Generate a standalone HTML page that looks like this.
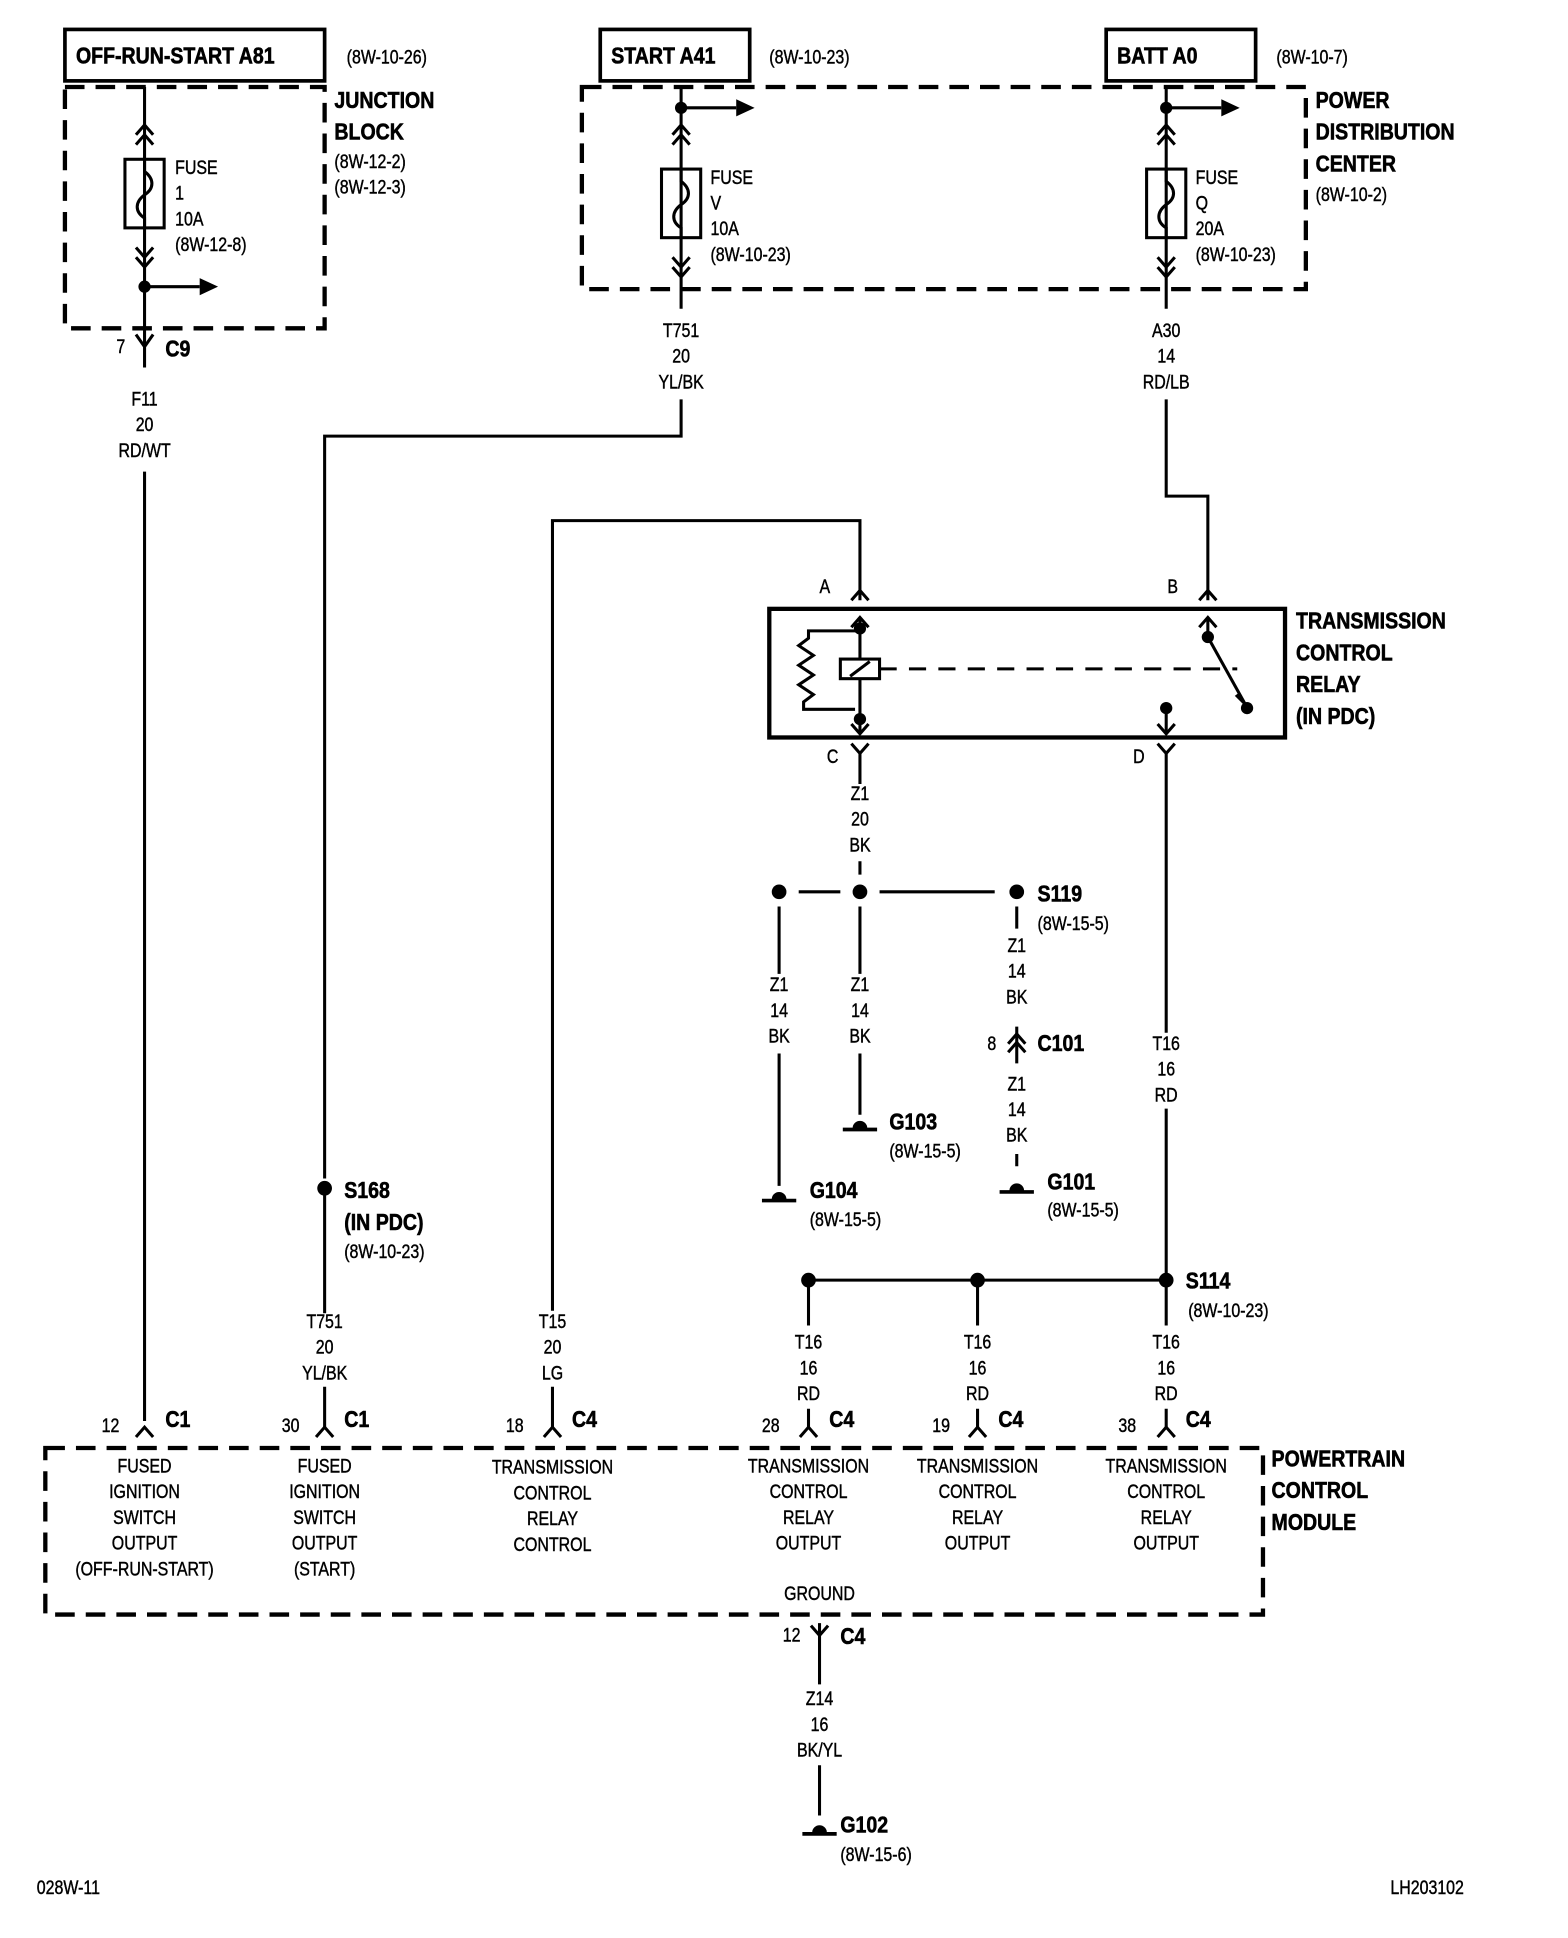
<!DOCTYPE html>
<html><head><meta charset="utf-8"><style>
html,body{margin:0;padding:0;background:#fff;}
svg{display:block;}
text{font-family:"Liberation Sans",sans-serif;fill:#000;stroke:#000;stroke-width:0.35;transform-box:fill-box;transform:scaleX(.84);transform-origin:0 0;}
.b{font-weight:bold;font-size:19px;stroke-width:0.5;}
.s{font-size:15.5px;}
.c{text-anchor:middle;transform-origin:50% 0;}
</style></head><body>
<svg width="1568" height="1938" viewBox="0 0 1280 1582" xmlns="http://www.w3.org/2000/svg">
<g fill="none" stroke="#000" stroke-width="2.5">
<rect x="53" y="24" width="212" height="42" stroke-width="3"/>
<rect x="490" y="24" width="122" height="42" stroke-width="3"/>
<rect x="903" y="24" width="122" height="42" stroke-width="3"/>
<rect x="53" y="71" width="212" height="197" stroke-width="3.5" stroke-dasharray="16,9"/>
<rect x="475" y="71" width="591" height="165" stroke-width="3.5" stroke-dasharray="16,9"/>
<rect x="37" y="1182" width="994" height="136" stroke-width="3.5" stroke-dasharray="16,9"/>
<path d="M118 71V300M118 385V1160"/>
<path d="M111 110l7-8 7 8M111 118l7-8 7 8M111 202l7 8 7-8M111 210l7 8 7-8"/>
<rect x="102" y="130" width="32" height="56"/>
<path d="M118 130v10c8 6 8 14 0 19c-8 6-8 14 0 19v8"/>
<path d="M118 234h45"/>
<path d="M111 273l7 10 7-10"/>
<path d="M556 71V252M556 326V356H265V962"/>
<path d="M549 110l7-8 7 8M549 118l7-8 7 8M549 210l7 8 7-8M549 218l7 8 7-8"/>
<rect x="540" y="138" width="32" height="56"/>
<path d="M556 138v10c8 6 8 14 0 19c-8 6-8 14 0 19v8"/>
<path d="M556 88h45"/>
<path d="M952 71V252M952 326V405H986V490"/>
<path d="M945 110l7-8 7 8M945 118l7-8 7 8M945 210l7 8 7-8M945 218l7 8 7-8"/>
<rect x="936" y="138" width="32" height="56"/>
<path d="M952 138v10c8 6 8 14 0 19c-8 6-8 14 0 19v8"/>
<path d="M952 88h45"/>
<path d="M451 1070V425H702V490"/>
<rect x="628" y="497" width="421" height="105" stroke-width="3.5"/>
<path d="M695 490l7-8 7 8M979 490l7-8 7 8M695 512l7-8 7 8M979 512l7-8 7 8"/>
<path d="M702 505V538M702 554V598M986 505V520"/>
<rect x="686" y="538" width="32" height="16"/>
<path d="M694 552l16-12"/>
<path d="M702 515H660v6l-8 6 12 8-12 8 12 8-12 8 12 8-8 6v6h42"/>
<path d="M718 546H1010" stroke-dasharray="14,10"/>
<path d="M986 520L1016 574"/>
<path d="M952 578V598"/>
<path d="M695 591l7 8 7-8M945 591l7 8 7-8"/>
<path d="M695 607l7 8 7-8M945 607l7 8 7-8M702 615V640M952 615V843M952 905V1045"/>
<path d="M702 703V714M652 728H686M718 728H812"/>
<path d="M636 740V795M636 860V968M702 740V795M702 860V910"/>
<path d="M830 740V758M830 838V868M830 942V952"/>
<path d="M823 852l7-8 7 8M823 859l7-8 7 8"/>
<path d="M660 1045H952M660 1045V1082M798 1045V1082M952 1045V1082"/>
<path d="M660 1150V1165M798 1150V1165M952 1150V1165M265 1132V1165M451 1132V1165"/>
<path d="M111 1173l7-8 7 8M258 1173l7-8 7 8M444 1173l7-8 7 8M653 1173l7-8 7 8M791 1173l7-8 7 8M945 1173l7-8 7 8"/>
<path d="M265 970V1072"/>
<path d="M662 1327l7 8 7-8M669 1325V1375M669 1441V1482"/>
<path d="M622 980H650M688 922H716M816 973H844M655 1497H683" stroke-width="3"/>
</g>
<g fill="#000">
<polygon points="163,227 178,234 163,241"/>
<polygon points="601,81 616,88 601,95"/>
<polygon points="997,81 1012,88 997,95"/>
<circle cx="118" cy="234" r="5"/><circle cx="556" cy="88" r="5"/><circle cx="952" cy="88" r="5"/>
<circle cx="702" cy="513" r="5"/><circle cx="702" cy="587" r="5"/><circle cx="986" cy="520" r="5"/><circle cx="1018" cy="578" r="5"/><circle cx="952" cy="578" r="5"/>
<polygon points="1008,568 1018,578 1012,565"/>
<circle cx="636" cy="728" r="6"/><circle cx="702" cy="728" r="6"/><circle cx="830" cy="728" r="6"/>
<circle cx="265" cy="970" r="6"/>
<circle cx="660" cy="1045" r="6"/><circle cx="798" cy="1045" r="6"/><circle cx="952" cy="1045" r="6"/>
<path d="M630 979a6 6 0 0 1 12 0z"/><path d="M696 921a6 6 0 0 1 12 0z"/><path d="M824 972a6 6 0 0 1 12 0z"/><path d="M663 1496a6 6 0 0 1 12 0z"/>
</g>
<g>
<text class="b" x="62" y="52">OFF-RUN-START A81</text>
<text class="s" x="283" y="52">(8W-10-26)</text>
<text class="b" x="499" y="52">START A41</text>
<text class="s" x="628" y="52">(8W-10-23)</text>
<text class="b" x="912" y="52">BATT A0</text>
<text class="s" x="1042" y="52">(8W-10-7)</text>
<text class="b" x="273" y="88">JUNCTION</text>
<text class="b" x="273" y="114">BLOCK</text>
<text class="s" x="273" y="137">(8W-12-2)</text>
<text class="s" x="273" y="158">(8W-12-3)</text>
<text class="s" x="143" y="142">FUSE</text>
<text class="s" x="143" y="163">1</text>
<text class="s" x="143" y="184">10A</text>
<text class="s" x="143" y="205">(8W-12-8)</text>
<text class="s" x="580" y="150">FUSE</text>
<text class="s" x="580" y="171">V</text>
<text class="s" x="580" y="192">10A</text>
<text class="s" x="580" y="213">(8W-10-23)</text>
<text class="s" x="976" y="150">FUSE</text>
<text class="s" x="976" y="171">Q</text>
<text class="s" x="976" y="192">20A</text>
<text class="s" x="976" y="213">(8W-10-23)</text>
<text class="b" x="1074" y="88">POWER</text>
<text class="b" x="1074" y="114">DISTRIBUTION</text>
<text class="b" x="1074" y="140">CENTER</text>
<text class="s" x="1074" y="164">(8W-10-2)</text>
<text class="s" x="95" y="288">7</text>
<text class="b" x="135" y="291">C9</text>
<text class="s c" x="118" y="331">F11</text><text class="s c" x="118" y="352">20</text><text class="s c" x="118" y="373">RD/WT</text>
<text class="s c" x="556" y="275">T751</text><text class="s c" x="556" y="296">20</text><text class="s c" x="556" y="317">YL/BK</text>
<text class="s c" x="952" y="275">A30</text><text class="s c" x="952" y="296">14</text><text class="s c" x="952" y="317">RD/LB</text>
<text class="s" x="669" y="484">A</text><text class="s" x="953" y="484">B</text>
<text class="s" x="675" y="623">C</text><text class="s" x="925" y="623">D</text>
<text class="b" x="1058" y="513">TRANSMISSION</text>
<text class="b" x="1058" y="539">CONTROL</text>
<text class="b" x="1058" y="565">RELAY</text>
<text class="b" x="1058" y="591">(IN PDC)</text>
<text class="s c" x="702" y="653">Z1</text><text class="s c" x="702" y="674">20</text><text class="s c" x="702" y="695">BK</text>
<text class="b" x="847" y="736">S119</text>
<text class="s" x="847" y="759">(8W-15-5)</text>
<text class="s c" x="636" y="809">Z1</text><text class="s c" x="636" y="830">14</text><text class="s c" x="636" y="851">BK</text>
<text class="s c" x="702" y="809">Z1</text><text class="s c" x="702" y="830">14</text><text class="s c" x="702" y="851">BK</text>
<text class="s c" x="830" y="777">Z1</text><text class="s c" x="830" y="798">14</text><text class="s c" x="830" y="819">BK</text>
<text class="s" x="806" y="857">8</text>
<text class="b" x="847" y="858">C101</text>
<text class="s c" x="830" y="890">Z1</text><text class="s c" x="830" y="911">14</text><text class="s c" x="830" y="932">BK</text>
<text class="b" x="726" y="922">G103</text>
<text class="s" x="726" y="945">(8W-15-5)</text>
<text class="b" x="661" y="978">G104</text>
<text class="s" x="661" y="1001">(8W-15-5)</text>
<text class="b" x="855" y="971">G101</text>
<text class="s" x="855" y="993">(8W-15-5)</text>
<text class="s c" x="952" y="857">T16</text><text class="s c" x="952" y="878">16</text><text class="s c" x="952" y="899">RD</text>
<text class="b" x="281" y="978">S168</text>
<text class="b" x="281" y="1004">(IN PDC)</text>
<text class="s" x="281" y="1027">(8W-10-23)</text>
<text class="b" x="968" y="1052">S114</text>
<text class="s" x="970" y="1075">(8W-10-23)</text>
<text class="s c" x="265" y="1084">T751</text><text class="s c" x="265" y="1105">20</text><text class="s c" x="265" y="1126">YL/BK</text>
<text class="s c" x="451" y="1084">T15</text><text class="s c" x="451" y="1105">20</text><text class="s c" x="451" y="1126">LG</text>
<text class="s c" x="660" y="1101">T16</text><text class="s c" x="660" y="1122">16</text><text class="s c" x="660" y="1143">RD</text>
<text class="s c" x="798" y="1101">T16</text><text class="s c" x="798" y="1122">16</text><text class="s c" x="798" y="1143">RD</text>
<text class="s c" x="952" y="1101">T16</text><text class="s c" x="952" y="1122">16</text><text class="s c" x="952" y="1143">RD</text>
<text class="s" x="83" y="1169">12</text><text class="b" x="135" y="1165">C1</text>
<text class="s" x="230" y="1169">30</text><text class="b" x="281" y="1165">C1</text>
<text class="s" x="413" y="1169">18</text><text class="b" x="467" y="1165">C4</text>
<text class="s" x="622" y="1169">28</text><text class="b" x="677" y="1165">C4</text>
<text class="s" x="761" y="1169">19</text><text class="b" x="815" y="1165">C4</text>
<text class="s" x="913" y="1169">38</text><text class="b" x="968" y="1165">C4</text>
<text class="s c" x="118" y="1202">FUSED</text>
<text class="s c" x="118" y="1223">IGNITION</text>
<text class="s c" x="118" y="1244">SWITCH</text>
<text class="s c" x="118" y="1265">OUTPUT</text>
<text class="s c" x="118" y="1286">(OFF-RUN-START)</text>
<text class="s c" x="265" y="1202">FUSED</text>
<text class="s c" x="265" y="1223">IGNITION</text>
<text class="s c" x="265" y="1244">SWITCH</text>
<text class="s c" x="265" y="1265">OUTPUT</text>
<text class="s c" x="265" y="1286">(START)</text>
<text class="s c" x="451" y="1203">TRANSMISSION</text>
<text class="s c" x="451" y="1224">CONTROL</text>
<text class="s c" x="451" y="1245">RELAY</text>
<text class="s c" x="451" y="1266">CONTROL</text>
<text class="s c" x="660" y="1202">TRANSMISSION</text>
<text class="s c" x="660" y="1223">CONTROL</text>
<text class="s c" x="660" y="1244">RELAY</text>
<text class="s c" x="660" y="1265">OUTPUT</text>
<text class="s c" x="798" y="1202">TRANSMISSION</text>
<text class="s c" x="798" y="1223">CONTROL</text>
<text class="s c" x="798" y="1244">RELAY</text>
<text class="s c" x="798" y="1265">OUTPUT</text>
<text class="s c" x="952" y="1202">TRANSMISSION</text>
<text class="s c" x="952" y="1223">CONTROL</text>
<text class="s c" x="952" y="1244">RELAY</text>
<text class="s c" x="952" y="1265">OUTPUT</text>
<text class="s c" x="669" y="1306">GROUND</text>
<text class="b" x="1038" y="1197">POWERTRAIN</text>
<text class="b" x="1038" y="1223">CONTROL</text>
<text class="b" x="1038" y="1249">MODULE</text>
<text class="s" x="639" y="1340">12</text><text class="b" x="686" y="1342">C4</text>
<text class="s c" x="669" y="1392">Z14</text><text class="s c" x="669" y="1413">16</text><text class="s c" x="669" y="1434">BK/YL</text>
<text class="b" x="686" y="1496">G102</text>
<text class="s" x="686" y="1519">(8W-15-6)</text>
<text class="s" x="30" y="1546">028W-11</text>
<text class="s" x="1135" y="1546">LH203102</text>
</g>
</svg>
</body></html>
